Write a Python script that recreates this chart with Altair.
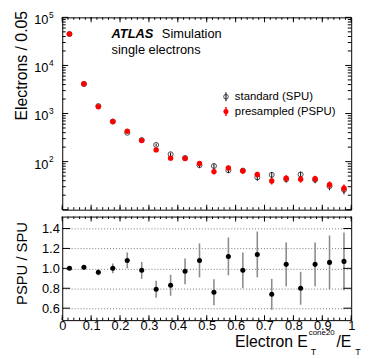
import altair as alt
import pandas as pd

# ---------------- data ----------------
x_centers = [0.025, 0.075, 0.125, 0.175, 0.225, 0.275, 0.325, 0.375, 0.425, 0.475,
             0.525, 0.575, 0.625, 0.675, 0.725, 0.775, 0.825, 0.875, 0.925, 0.975]
pspu = [45000, 4150, 1380, 680, 430, 275, 175, 118, 116, 91,
        62, 74, 64, 54, 39.5, 45, 43, 44, 33, 28]
pspu_err = [210, 64, 37, 26, 21, 17, 13, 11, 11, 9.5,
            8, 8.6, 8, 7.3, 6.3, 6.7, 6.6, 6.6, 5.7, 5.3]
spu = [45000, 4100, 1430, 680, 398, 280, 222, 142, 119, 84,
       81, 66, 65, 47, 53, 43, 54, 42, 31, 26]
spu_err = [210, 64, 38, 26, 20, 17, 15, 12, 11, 9.2,
           9, 8.1, 8, 6.9, 7.3, 6.6, 7.3, 6.5, 5.6, 5.1]
ratio = [1.00, 1.01, 0.96, 1.00, 1.08, 0.98, 0.79, 0.83, 0.97, 1.08,
         0.76, 1.12, 0.98, 1.14, 0.74, 1.04, 0.80, 1.04, 1.06, 1.07]
ratio_err = [0.01, 0.012, 0.03, 0.05, 0.08, 0.085, 0.085, 0.105, 0.13, 0.17,
             0.13, 0.19, 0.18, 0.23, 0.155, 0.22, 0.165, 0.22, 0.27, 0.29]

x_major = [0.0, 0.1, 0.2, 0.3, 0.4, 0.5, 0.6, 0.7, 0.8, 0.9, 1.0]
x_minor = [round(i * 0.02, 2) for i in range(51)]
y_decades = [10, 100, 1000, 10000, 100000]
y_minor = [m * d for d in [10, 100, 1000, 10000] for m in range(2, 10)]
y_label_vals = [100, 1000, 10000, 100000]
y_label_exps = ["2", "3", "4", "5"]
ratio_major = [0.6, 0.8, 1.0, 1.2, 1.4]

FONT = "Liberation Sans"
W, H1, H2 = 293, 195, 105

df = pd.DataFrame({
    "x": x_centers,
    "pspu": pspu,
    "pspu_lo": [v - e for v, e in zip(pspu, pspu_err)],
    "pspu_hi": [v + e for v, e in zip(pspu, pspu_err)],
    "spu": spu,
    "spu_lo": [v - e for v, e in zip(spu, spu_err)],
    "spu_hi": [v + e for v, e in zip(spu, spu_err)],
    "ratio": ratio,
    "r_lo": [v - e for v, e in zip(ratio, ratio_err)],
    "r_hi": [v + e for v, e in zip(ratio, ratio_err)],
})

xs = alt.Scale(domain=[0, 1], nice=False, zero=False)
ys = alt.Scale(type="log", domain=[10, 100000], nice=False)
rs = alt.Scale(domain=[0.48, 1.52], nice=False, zero=False)

one = pd.DataFrame({"a": [0]})

# axes (the same object is given to every layer that uses the channel)
top_x_axis = alt.Axis(labels=False, ticks=False, domain=False, grid=False, title=None)
top_y_axis = alt.Axis(labels=False, ticks=False, domain=False, grid=False,
                      title="Electrons / 0.05", titleX=-41, titleY=-7,
                      titleAngle=-90, titleAlign="right", titleBaseline="middle",
                      titleFontSize=16, titleFontWeight="normal", titleFont=FONT,
                      titleColor="black")
bot_x_axis = alt.Axis(values=x_major,
                      labelExpr="datum.value == 0 ? '0' : datum.value == 1 ? '1' : format(datum.value, '.1f')",
                      labelFontSize=13, labelFont=FONT, ticks=False, domain=False, grid=False,
                      labelPadding=0, labelFlush=False, labelOverlap=False, labelColor="black",
                      title=None)
bot_y_axis = alt.Axis(values=ratio_major, format=".1f", labelFontSize=13, labelFont=FONT,
                      ticks=False, domain=False, grid=True, gridDash=[1, 2], gridColor="#777777",
                      gridWidth=1, labelPadding=3, labelColor="black",
                      title="PSPU / SPU", titleX=-41, titleY=5, titleAngle=-90,
                      titleAlign="right", titleBaseline="middle", titleFontSize=15,
                      titleFontWeight="normal", titleFont=FONT, titleColor="black")


def xticks(scale, axis, h):
    out = []
    for vals, ln in [(x_minor, 2.5), (x_major, 5)]:
        d = pd.DataFrame({"v": vals})
        out.append(alt.Chart(d).mark_rule(color="black", strokeWidth=1).encode(
            x=alt.X("v:Q", scale=scale, axis=axis), y=alt.value(h), y2=alt.value(h - ln)))
        out.append(alt.Chart(d).mark_rule(color="black", strokeWidth=1).encode(
            x=alt.X("v:Q", scale=scale, axis=axis), y=alt.value(0), y2=alt.value(ln)))
    return out


def yticks(vals, scale, axis, ln):
    d = pd.DataFrame({"v": vals})
    return [
        alt.Chart(d).mark_rule(color="black", strokeWidth=1).encode(
            y=alt.Y("v:Q", scale=scale, axis=axis), x=alt.value(0), x2=alt.value(ln)),
        alt.Chart(d).mark_rule(color="black", strokeWidth=1).encode(
            y=alt.Y("v:Q", scale=scale, axis=axis), x=alt.value(W), x2=alt.value(W - ln)),
    ]


def txt(s, x, y, size, align="left", weight="normal", style="normal", baseline="alphabetic", color="black"):
    return alt.Chart(one).mark_text(
        align=align, baseline=baseline, fontSize=size, fontWeight=weight,
        fontStyle=style, font=FONT, color=color
    ).encode(x=alt.value(x), y=alt.value(y), text=alt.value(s))


base = alt.Chart(df)

X_top = lambda f: alt.X(f, scale=xs, axis=top_x_axis)
Y_top = lambda f: alt.Y(f, scale=ys, axis=top_y_axis)

spu_bars = base.mark_rule(color="black", strokeWidth=1).encode(
    x=X_top("x:Q"), y=Y_top("spu_lo:Q"), y2="spu_hi:Q")
spu_pts = base.mark_point(shape="circle", filled=False, color="black", size=26, strokeWidth=1).encode(
    x=X_top("x:Q"), y=Y_top("spu:Q"))
pspu_bars = base.mark_rule(color="#ff0000", strokeWidth=1.5).encode(
    x=X_top("x:Q"), y=Y_top("pspu_lo:Q"), y2="pspu_hi:Q")
pspu_pts = base.mark_circle(color="#ff0000", size=30, opacity=1).encode(
    x=X_top("x:Q"), y=Y_top("pspu:Q"))

ylab_df = pd.DataFrame({"v": y_label_vals, "e": y_label_exps})
ylab_main = alt.Chart(ylab_df).mark_text(align="right", baseline="middle", fontSize=13, font=FONT,
                                         dy=3, color="black").encode(
    y=Y_top("v:Q"), x=alt.value(-14), text=alt.value("10"))
ylab_exp = alt.Chart(ylab_df).mark_text(align="left", baseline="middle", fontSize=8.5, font=FONT,
                                        dy=-2.5, color="black").encode(
    y=Y_top("v:Q"), x=alt.value(-13.5), text="e:N")

# legend glyphs
leg_black_bar = alt.Chart(one).mark_rule(color="black", strokeWidth=1).encode(
    x=alt.value(166), y=alt.value(76), y2=alt.value(85))
leg_black_pt = alt.Chart(one).mark_point(shape="circle", filled=False, color="black", size=22, strokeWidth=1).encode(
    x=alt.value(166), y=alt.value(80.5))
leg_red_bar = alt.Chart(one).mark_rule(color="#ff0000", strokeWidth=1.5).encode(
    x=alt.value(166), y=alt.value(91), y2=alt.value(100))
leg_red_pt = alt.Chart(one).mark_circle(color="#ff0000", size=26, opacity=1).encode(
    x=alt.value(166), y=alt.value(95.5))

top_layers = [spu_bars, spu_pts, pspu_bars, pspu_pts, ylab_main, ylab_exp,
              leg_black_bar, leg_black_pt, leg_red_bar, leg_red_pt,
              txt("standard (SPU)", 175, 80.5, 11.5, baseline="middle"),
              txt("presampled (PSPU)", 175, 95.5, 11.5, baseline="middle"),
              txt("ATLAS", 50, 21, 13, weight="bold", style="italic"),
              txt("Simulation", 101, 21, 13),
              txt("single electrons", 50, 37, 13)]
top_layers += xticks(xs, top_x_axis, H1)
top_layers += yticks(y_decades, ys, top_y_axis, 6)
top_layers += yticks(y_minor, ys, top_y_axis, 3.5)

top = alt.layer(*top_layers).properties(width=W, height=H1)

# ---------------- ratio panel ----------------
r_bars = base.mark_rule(color="#8c8c8c", strokeWidth=1.6).encode(
    x=alt.X("x:Q", scale=xs, axis=bot_x_axis),
    y=alt.Y("r_lo:Q", scale=rs, axis=bot_y_axis),
    y2="r_hi:Q")
r_pts = base.mark_circle(color="black", size=26, opacity=1).encode(
    x=alt.X("x:Q", scale=xs, axis=bot_x_axis), y=alt.Y("ratio:Q", scale=rs, axis=bot_y_axis))

bot_layers = [r_bars, r_pts,
              txt("Electron E", 249, 132, 16, align="right"),
              txt("cone20", 250, 120, 8),
              txt("T", 252, 140, 9),
              txt("/E", 278, 132, 16),
              txt("T", 297, 140, 9)]
bot_layers += xticks(xs, bot_x_axis, H2)
bot_layers += yticks(ratio_major, rs, bot_y_axis, 8)

bottom = alt.layer(*bot_layers).properties(width=W, height=H2)

chart = alt.vconcat(top, bottom, spacing=5).properties(
    padding={"left": 5, "top": -1, "right": 5, "bottom": 5}
).configure(font=FONT).configure_view(stroke="black", strokeWidth=1).configure_axis(
    labelColor="black", titleColor="black")

chart.save("out.html", embed_options={"renderer": "svg", "actions": False})
